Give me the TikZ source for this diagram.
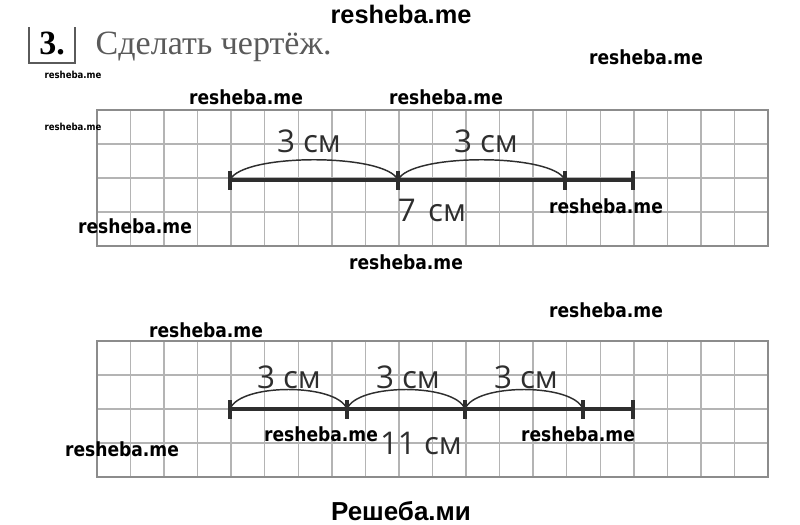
\documentclass[tikz,border=0pt]{standalone}
\usepackage{fontspec}
\setmainfont{Liberation Serif}
\newfontfamily\cmfont{Open Sans}
\newfontfamily\wmfont[FakeStretch=0.88]{DejaVu Sans}
\newfontfamily\arfont{Liberation Sans}
\definecolor{gridgray}{HTML}{B4B4B4}
\definecolor{framegray}{HTML}{8C8C8C}
\definecolor{segcol}{HTML}{2E2E2E}
\definecolor{headgray}{HTML}{5A5A5A}
\tikzset{
    cell/.style={draw=gridgray,line width=1.1pt},
    frame/.style={draw=framegray,line width=1.4pt},
    seg/.style={draw=segcol,line width=2.4pt},
    brace/.style={draw=segcol,line width=1.1pt},
    cmlabel/.style={font=\cmfont\fontsize{23.5}{23.5}\selectfont,text=segcol},
    wm/.style={font=\wmfont\bfseries\fontsize{14.6}{14.6}\selectfont},
    wmsmall/.style={font=\wmfont\bfseries\fontsize{7.3}{7.3}\selectfont},
    wmtop/.style={font=\arfont\bfseries\fontsize{19}{19}\selectfont}
}
\begin{document}
\begin{tikzpicture}[x=0.75pt,y=-0.75pt]
    \useasboundingbox (0,0) rectangle (800,525);
    % header
    \draw[headgray,line width=0.9pt](29,27)--(29,63)--(75,63)--(75,27);
    \node[anchor=base,font=\bfseries\fontsize{25.5}{25.5}\selectfont] (num) at (52,54) {3.};
    \node[anchor=base west,text=headgray,font=\fontsize{25.5}{25.5}\selectfont] (task) at (91,54) {Сделать чертёж.};
    % two squared strips
    \foreach \t in {110,341}{
        \foreach \i in {1,...,19}
            \draw[cell](97+\i*33.55,\t)--++(0,136);
        \foreach \j in {1,2,3}
            \draw[cell](97,\t+\j*34)--++(671,0);
        \draw[frame](97,\t)rectangle++(671,136);
    }
    % first drawing: 7 cm
    \draw[seg](230,180)--(633,180);
    \foreach \x in {230,398,565,633}
        \draw[seg](\x,171)--(\x,190);
    \foreach \a/\b in {230/398,398/565}
        \draw[brace](\a,180) .. controls +(12,-27) and +(-12,-27) .. (\b,180);
    \node[cmlabel] (ua) at (309,141) {3 см};
    \node[cmlabel] (ub) at (486,141) {3 см};
    \node[cmlabel] (ut) at (432,210) {7\hspace{0.4em}см};
    % second drawing: 11 cm
    \draw[seg](230,409)--(633,409);
    \foreach \x in {230,347,465,583,633}
        \draw[seg](\x,400)--(\x,419);
    \foreach \a/\b in {230/347,347/465,465/583}
        \draw[brace](\a,409) .. controls +(10,-26) and +(-10,-26) .. (\b,409);
    \node[cmlabel] (la) at (289,377) {3 см};
    \node[cmlabel] (lb) at (408,377) {3 см};
    \node[cmlabel] (lc) at (526,377) {3 см};
    \node[cmlabel] (lt) at (421,443) {11 см};
    % watermarks
    \node[wmtop] (wa) at (401,14) {resheba.me};
    \foreach \x/\y/\n in {646/57/wb,246/97/wc,446/97/wd,135/226/we,606/206/wf,
        406/262/wg,606/310/wh,206/330/wi,321/434/wj,122/449/wk,578/434/wl}
        \node[wm] (\n) at (\x,\y) {resheba.me};
    \node[wmsmall] (ws1) at (73,75) {resheba.me};
    \node[wmsmall] (ws2) at (73,127) {resheba.me};
    \node[font=\arfont\bfseries\fontsize{19.5}{19.5}\selectfont] (wru) at (401,511) {Решеба.ми};
\end{tikzpicture}
\end{document}
